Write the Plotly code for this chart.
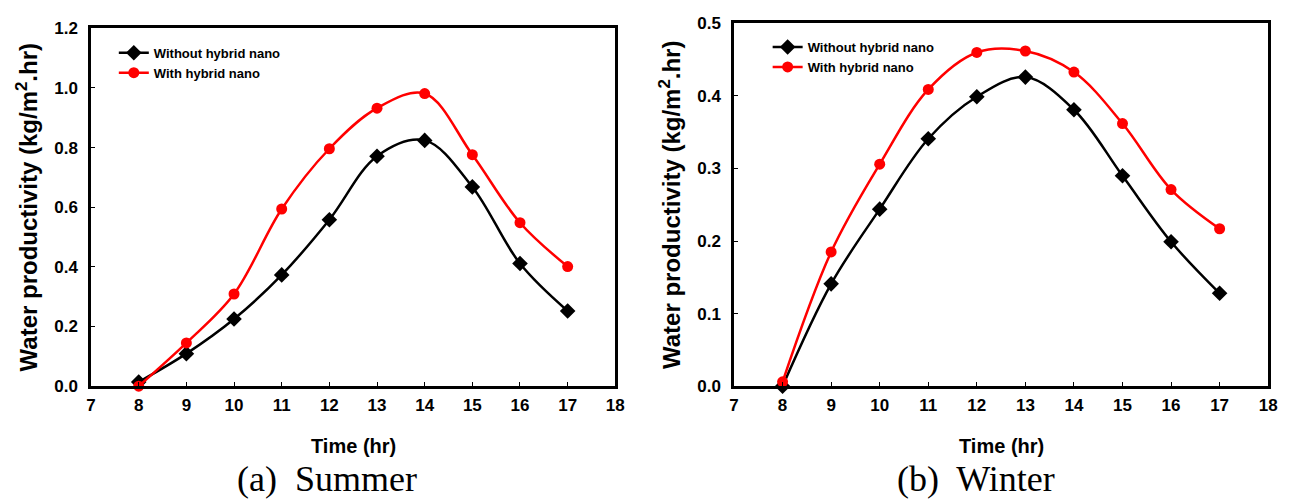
import plotly.graph_objects as go

hours = [8, 9, 10, 11, 12, 13, 14, 15, 16, 17]

summer_without = [0.014, 0.109, 0.225, 0.373, 0.558, 0.771, 0.824, 0.668, 0.411, 0.252]
summer_with = [0.0, 0.145, 0.309, 0.594, 0.796, 0.932, 0.981, 0.776, 0.548, 0.401]

winter_without = [0.0, 0.141, 0.244, 0.341, 0.399, 0.426, 0.381, 0.290, 0.199, 0.128]
winter_with = [0.006, 0.185, 0.306, 0.409, 0.460, 0.462, 0.433, 0.362, 0.271, 0.217]

series_names = ["Without hybrid nano", "With hybrid nano"]
x_ticks = list(range(7, 19))
summer_y_ticks = [0.0, 0.2, 0.4, 0.6, 0.8, 1.0, 1.2]
winter_y_ticks = [0.0, 0.1, 0.2, 0.3, 0.4, 0.5]
captions = ["(a)\u00a0 Summer", "(b)\u00a0 Winter"]

W, H = 1293, 502
FONT = "Liberation Sans, Arial, sans-serif"

fig = go.Figure()

def add_pair(xa, ya, y_without, y_with, legend):
    fig.add_trace(go.Scatter(
        x=hours, y=y_without, name=series_names[0], mode="lines+markers",
        line=dict(color="black", width=2.5, shape="spline", smoothing=1.0),
        marker=dict(symbol="diamond", size=12, color="black"),
        xaxis=xa, yaxis=ya, legend=legend, cliponaxis=False))
    fig.add_trace(go.Scatter(
        x=hours, y=y_with, name=series_names[1], mode="lines+markers",
        line=dict(color="#ff0000", width=2.5, shape="spline", smoothing=1.0),
        marker=dict(symbol="circle", size=11, color="#ff0000"),
        xaxis=xa, yaxis=ya, legend=legend, cliponaxis=False))

add_pair("x", "y", summer_without, summer_with, "legend")
add_pair("x2", "y2", winter_without, winter_with, "legend2")

def px_x(p):
    return p / W

def px_y(p):
    return (H - p) / H

axis_common = dict(
    showline=True, linecolor="black", linewidth=2.5, mirror=True,
    ticks="inside", ticklen=4, tickwidth=1, tickcolor="black",
    showgrid=False, zeroline=False,
    tickfont=dict(family=FONT, size=17, color="black", weight="bold"),
)

title_font_y = dict(family=FONT, size=24, color="black", weight="bold")
title_font_x = dict(family=FONT, size=20, color="black", weight="bold")

fig.update_layout(
    width=W, height=H,
    margin=dict(l=0, r=0, t=0, b=0),
    paper_bgcolor="white", plot_bgcolor="white",
    showlegend=True,
    xaxis=dict(domain=[px_x(87), px_x(617)], range=[7, 18], tickvals=x_ticks,
               anchor="y", ticklabelstandoff=2, **axis_common),
    yaxis=dict(domain=[px_y(392), px_y(20)], range=[0, 1.2], tickvals=summer_y_ticks,
               tickformat=".1f", anchor="x", ticklabelstandoff=7,
               title=dict(text="Water productivity (kg/m<sup>2</sup>.hr)", font=title_font_y, standoff=10),
               **axis_common),
    xaxis2=dict(domain=[px_x(737), px_x(1277)], range=[7, 18], tickvals=x_ticks,
                anchor="y2", ticklabelstandoff=2, **axis_common),
    yaxis2=dict(domain=[px_y(392), px_y(15)], range=[0, 0.5], tickvals=winter_y_ticks,
                tickformat=".1f", anchor="x2", ticklabelstandoff=7,
                title=dict(text="Water productivity (kg/m<sup>2</sup>.hr)", font=title_font_y, standoff=10),
                **axis_common),
    legend=dict(x=px_x(110), y=px_y(30), xanchor="left", yanchor="top",
                bgcolor="rgba(0,0,0,0)", tracegroupgap=0,
                font=dict(family=FONT, size=13, color="black", weight="bold")),
    legend2=dict(x=px_x(771), y=px_y(24), xanchor="left", yanchor="top",
                 bgcolor="rgba(0,0,0,0)", tracegroupgap=0,
                 font=dict(family=FONT, size=13, color="black", weight="bold")),
)

# x-axis titles and captions
for cx in [352, 1007]:
    fig.add_annotation(x=px_x(cx), y=px_y(454), xref="paper", yref="paper",
                       text="<b>Time (hr)</b>", showarrow=False,
                       font=title_font_x, xanchor="center", yanchor="middle")
for cx, cap in zip([326, 982], captions):
    fig.add_annotation(x=px_x(cx), y=px_y(488), xref="paper", yref="paper",
                       text=cap, showarrow=False,
                       font=dict(family="Liberation Serif, Times New Roman, serif", size=36, color="black"),
                       xanchor="center", yanchor="middle")

fig.write_html("out.html")
